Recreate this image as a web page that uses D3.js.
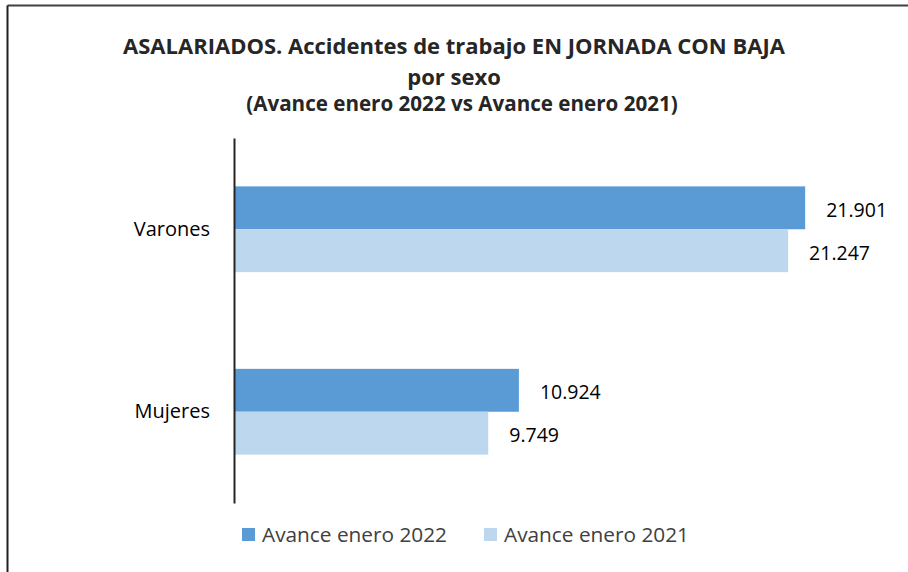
<!DOCTYPE html>
<html>
<head>
<meta charset="utf-8">
<script src="https://cdn.jsdelivr.net/npm/d3@7"></script>
<style>
  body { margin: 0; background: #fff; }
  svg { display: block; }
  text { font-family: "Open Sans", sans-serif; }
</style>
</head>
<body>
<div class="chart"></div>
<script>
// data
var categories = ["Varones", "Mujeres"];
var seriesNames = ["Avance enero 2022", "Avance enero 2021"];
var values2022 = [21901, 10924];
var values2021 = [21247, 9749];
var titleLines = [
  "ASALARIADOS. Accidentes de trabajo EN JORNADA CON BAJA",
  "por sexo",
  "(Avance enero 2022 vs Avance enero 2021)"
];

var colors = ["#5B9BD5", "#BDD7EE"];
var W = 908, H = 572;

var svg = d3.select(".chart").append("svg")
  .attr("width", W)
  .attr("height", H);

// frame (only top and left edges show)
svg.append("line").attr("x1", 7.5).attr("x2", W).attr("y1", 5.5).attr("y2", 5.5)
  .attr("stroke", "#404040").attr("stroke-width", 2);
svg.append("line").attr("x1", 7.5).attr("x2", 7.5).attr("y1", 5.5).attr("y2", H)
  .attr("stroke", "#202020").attr("stroke-width", 2);

// title
svg.append("text").attr("x", 454).attr("y", 54)
  .attr("text-anchor", "middle").attr("font-weight", "bold")
  .attr("font-size", 22).attr("fill", "#262626")
  .text(titleLines[0]);
svg.append("text").attr("x", 454).attr("y", 85)
  .attr("text-anchor", "middle").attr("font-weight", "bold")
  .attr("font-size", 22).attr("fill", "#262626")
  .text(titleLines[1]);
svg.append("text").attr("x", 462).attr("y", 111)
  .attr("text-anchor", "middle").attr("font-weight", "bold")
  .attr("font-size", 20.6).attr("fill", "#262626")
  .text(titleLines[2]);

var x = d3.scaleLinear().domain([0, 25000]).range([234, 886]);
var y = d3.scaleBand().domain(categories).range([138, 503])
  .paddingInner(0.53).paddingOuter(0.265);
var ySub = d3.scaleBand().domain(seriesNames).range([0, y.bandwidth()]);

var data = [];
categories.forEach(function(c, i) {
  data.push({cat: c, series: seriesNames[0], value: values2022[i], color: colors[0]});
  data.push({cat: c, series: seriesNames[1], value: values2021[i], color: colors[1]});
});

var fmt = function(v) { return d3.format(",")(v).replace(/,/g, "."); };

svg.selectAll(".bar")
  .data(data)
  .enter().append("rect")
  .attr("class", "bar")
  .attr("x", x(0))
  .attr("y", function(d) { return y(d.cat) + ySub(d.series); })
  .attr("width", function(d) { return x(d.value) - x(0); })
  .attr("height", ySub.bandwidth())
  .attr("fill", function(d) { return d.color; });

svg.selectAll(".lbl")
  .data(data)
  .enter().append("text")
  .attr("class", "lbl")
  .attr("x", function(d) { return x(d.value) + 21; })
  .attr("y", function(d) { return y(d.cat) + ySub(d.series) + ySub.bandwidth() / 2 + 2; })
  .attr("dy", "0.35em")
  .attr("font-size", 19.5)
  .attr("fill", "#000")
  .text(function(d) { return fmt(d.value); });

// category axis
var yAxis = svg.append("g")
  .attr("transform", "translate(" + x(0) + ",0)")
  .call(d3.axisLeft(y).tickSize(0).tickPadding(24));
yAxis.select(".domain").attr("stroke", "#262626").attr("stroke-width", 2);
yAxis.selectAll("text")
  .attr("font-size", 20)
  .attr("fill", "#000")
  .style("font-family", "'Open Sans', sans-serif");

// legend
var legend = svg.append("g").selectAll("g")
  .data(seriesNames)
  .enter().append("g")
  .attr("transform", function(d, i) { return "translate(" + [242, 484][i] + ",528)"; });
legend.append("rect")
  .attr("width", 13).attr("height", 13)
  .attr("fill", function(d, i) { return colors[i]; });
legend.append("text")
  .attr("x", 20).attr("y", 6.5).attr("dy", "0.35em")
  .attr("font-size", 20.8).attr("fill", "#404040")
  .text(function(d) { return d; });
</script>
</body>
</html>
